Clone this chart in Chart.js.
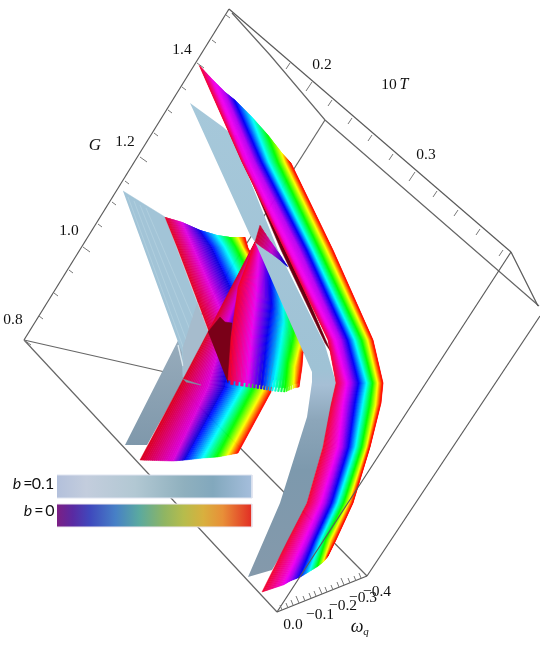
<!DOCTYPE html>
<html><head><meta charset="utf-8">
<style>html,body{margin:0;padding:0;background:#fff}canvas{display:block}</style>
<script src="https://cdn.jsdelivr.net/npm/chart.js@4/dist/chart.umd.min.js"></script>
</head><body><canvas id="c" width="540" height="654"></canvas>
<script>
// ---- text ----
const gTickLabels = ['0.8','1.0','1.2','1.4'];
const tTickLabels = ['0.2','0.3'];
const wTickLabels = ['\u22120.4','0.0','\u22120.1','\u22120.2','\u22120.3'];
const legendLabels = ['0.1','0'];
// ---- hue read across each rainbow sheet, edge to edge ----
const hueA = [350,305,285,240,180,120,60,0];
const hueAcross = [352,300,240,180,120,60,0];
const hueTip = [348,325,295,262,235];
// ---- rainbow sheets: each row is one section across the sheet, [x,y] ----
const sheetA = [
 [[199,65],[212,79],[225,92],[235,100],[252,117],[268,135],[282,153],[290,162]],
 [[242,162],[246,162],[255,162],[262,162],[269,162],[278,162],[285,162],[291,163]],
 [[285,250],[289,250],[300,250],[307,250],[313,250],[320,250],[327,250],[333,250]],
 [[328,340],[334,340],[341,340],[348,340],[355,340],[362,340],[368,340],[373,340]],
 [[336,383],[346,383],[351,383],[359,383],[367,383],[373,383],[378,383],[383,383]],
 [[331,405],[342,405],[347,405],[355,405],[363,405],[370,405],[376,405],[381,403]],
 [[323,447],[337,447],[342,447],[349,447],[356,447],[362,447],[367,447],[370,447]],
 [[307,503],[320,503],[325,503],[332,503],[338,503],[344,503],[349,503],[353,503]],
 [[288,540],[303,540],[309,540],[315,540],[321,540],[326,540],[331,540],[336,540]],
 [[262,592],[283,585],[290,581],[300,577],[310,571],[318,566],[324,561],[328,556]]
];
const sheetC = [
 [[255,242],[257,243],[258,244],[259,245],[260,246],[261,247],[262,248]],
 [[208,332],[225,330],[235,330],[250,330],[260,330],[270,330],[277,330]],
 [[179,387],[208,387],[225,387],[242,388],[253,389],[263,391],[271,392]],
 [[140,460],[173,461],[185,460],[203,458],[217,457],[228,455],[238,453]]
];
const sheetD = [
 [[165,217],[182,222],[200,230],[217,235],[230,237],[238,237],[245,237]],
 [[177,247],[193,247],[212,247],[225,247],[236,247],[243,247],[248,248]],
 [[202,313],[222,313],[243,313],[258,313],[270,313],[278,313],[285,313]],
 [[228,383],[250,380],[270,380],[283,380],[290,380],[295,380],[298,380]]
];
const sheetE = [
 [[255,242],[260,243],[270,267],[283,297],[295,323],[302,340],[307,350]],
 [[238,287],[257,290],[272,303],[284,323],[293,340],[299,350],[303,353]],
 [[231,337],[252,337],[267,343],[279,357],[288,363],[295,367],[302,367]],
 [[228,384],[248,387],[262,389],[273,391],[285,392],[294,388],[299,387]]
];
const tipTop = [[260,225],[267,236],[274,246],[281,256],[288,267]];
const tipBottom = [[255,242],[263,248],[272,254],[280,260],[288,267]];
// ---- plain sheets ----
const sheetB = [[190,103],[223,127],[232,135],[278,250],[325,345],[336,383],[323,447],[307,503],[282,553],[272,570],[248,577],[280,503],[307,417],[312,382],[312,372],[255,242],[250,235]];
const sheetF = [[123,191],[165,217],[208,332],[183,377],[182,353]];
const sheetF2 = [[197,303],[208,332],[184,378],[183,347]];
const sheetG = [[125,445],[147,445],[185,377],[183,347],[197,303],[200,290],[204,291],[196,305]];
const spur = [[197,300],[201,289],[204,291],[200,303]];
const sliver = [[183,379],[201,385],[186,382]];
const darkFold = [[232,135],[281,250],[325,343],[331,352],[287,250],[236,135]];
const darkPatch = [[208,332],[220,317],[225,322],[232,323],[228,383]];
const streaks = [[[128,197],[186,355]],[[134,201],[190,350]],[[140,205],[194,340]],[[146,208],[198,330]]];
const notch = [[178,345],[183,366]];
// ---- frame ----
const backEdges = [
 [[24,340],[277,612]],
 [[24,340],[165,372]],
 [[165,372],[367,576]],
 [[165,372],[325,120]],
 [[232,13],[270,55],[325,120],[539,306]]
];
const frontEdges = [
 [[24,340],[229,9]],
 [[229,9],[511,252]],
 [[511,252],[538,306]],
 [[511,252],[277,612]],
 [[277,612],[367,576]],
 [[367,576],[540,316]]
];
// ---- ticks: [x,y] on the axis ----
const gTicks = [[226,15],[212,40],[197,63],[182,87],[168,110],[154,133],[140,157],[125,181],[112,202],[98,224],[83,247],[69,270],[54,293],[39,316],[24,340]];
const gMajor = [2,6,10,14];
const tTicks = [[290,63],[312,82],[332,100],[352,118],[372,135],[393,154],[415,172],[437,191],[458,210],[480,229],[503,250]];
const tMajor = [1,6];
const wTicks = [[282,610],[288,608],[293,605],[299,603],[305,601],[311,598],[316,596],[322,594],[327,592],[333,590],[339,587],[344,585],[350,583],[356,581],[361,578]];
const wMajor = [3,7,11];
// ---- legend colour ramps ----
const rampB01 = [[0,'#b3c0db'],[0.15,'#c3cddd'],[0.4,'#b2c8d3'],[0.65,'#8fb0be'],[0.8,'#82a8bd'],[1,'#a5bedc']];
const rampB0 = [[0,'#7c1f84'],[0.08,'#5a2aa2'],[0.17,'#3f49bd'],[0.3,'#4780c6'],[0.42,'#5aa9a0'],[0.55,'#8fb563'],[0.65,'#b6bc4c'],[0.75,'#d8b03e'],[0.85,'#e88f38'],[1,'#e22c24']];
const barB01 = [[57,475],[252,475],[252,498],[57,498]];
const barB0 = [[57,504],[252,504],[252,527],[57,527]];

const pts = a => a.map(p => ({x:p[0],y:p[1]}));
const lerp = (p,q,t) => [p[0]+(q[0]-p[0])*t,p[1]+(q[1]-p[1])*t];
const list = [];
function poly(a,bg,extra){list.push(Object.assign({data:pts(a),showLine:true,fill:'shape',backgroundColor:bg,borderColor:typeof bg==='string'?bg:'rgba(0,0,0,0)',borderWidth:typeof bg==='string'?0.5:0,pointRadius:0,tension:0},extra||{}));}
function stroke(a,col,w){list.push({data:pts(a),showLine:true,fill:false,borderColor:col,borderWidth:w,pointRadius:0,tension:0});}
function rainbow(rows,hues,steps,teeth,warmLight){
  let n=0;
  for(let b=0;b<hues.length-1;b++){
    for(let s=0;s<steps;s++,n++){
      const t0=s/steps,t1=(s+1.15)/steps,h=hues[b]+(hues[b+1]-hues[b])*(s+0.5)/steps;
      const one=rows.map(r=>lerp(r[b],r[b+1],t0)), two=rows.map(r=>lerp(r[b],r[b+1],Math.min(t1,1)));
      if(teeth&&n%4<2){const k=one.length-1;one[k]=[one[k][0],one[k][1]-teeth];two[k]=[two[k][0],two[k][1]-teeth];}
      const l=h>=240?warmLight:50;
      poly(one.concat(two.reverse()),`hsl(${h},100%,${l}%)`);
    }
  }
}
function vGrad(stops){return c=>{const ch=c.chart,y=ch.scales.y;const a=stops[0][0],z=stops[stops.length-1][0];const p0=y&&y.getPixelForValue(a),p1=y&&y.getPixelForValue(z);if(!Number.isFinite(p0)||!Number.isFinite(p1))return stops[0][1];const g=ch.ctx.createLinearGradient(0,p0,0,p1);stops.forEach(s=>g.addColorStop((s[0]-a)/(z-a),s[1]));return g;};}
function hGrad(bar,ramp){return c=>{const ch=c.chart,x=ch.scales.x;const p0=x&&x.getPixelForValue(bar[0][0]),p1=x&&x.getPixelForValue(bar[1][0]);if(!Number.isFinite(p0)||!Number.isFinite(p1))return ramp[0][1];const g=ch.ctx.createLinearGradient(p0,0,p1,0);ramp.forEach(s=>g.addColorStop(s[0],s[1]));return g;};}

// paint order, back to front
backEdges.forEach(e=>stroke(e,'#666',1.2));
poly(sheetG,vGrad([[290,'#a3b7c6'],[380,'#8ea4b5'],[445,'#7f98ab']]));
poly(sheetF,'#a2c4d7');
streaks.forEach(e=>stroke(e,'#b3d0df',0.8));
stroke(notch,'#dbe8ef',1.4);
poly(sheetF2,'#a6bccd');
poly(spur,'#a9c8d8');
rainbow(sheetD,hueAcross,16,0,44);
rainbow(sheetC,hueAcross,16,0,43);
poly(darkPatch,'#7a0018');
rainbow(sheetE,hueAcross,16,4,47);
poly(sheetB,vGrad([[103,'#a6c8da'],[370,'#9fc2d5'],[385,'#a6bfd5'],[420,'#8ca6ba'],[470,'#7d99ad'],[577,'#8499ab']]));
rainbow([tipTop,tipBottom],hueTip,8,0,40);
poly(darkFold,'#6b0012');
rainbow(sheetA,hueA,16,0,47);
poly(sliver,'#7f93a3');
frontEdges.forEach(e=>stroke(e,'#5a5a5a',1.2));
const tick=(p,dx,dy)=>stroke([p,[p[0]+dx,p[1]+dy]],'#777',1);
gTicks.forEach((p,i)=>gMajor.includes(i)?tick(p,7,5):tick(p,4,3));
tTicks.forEach((p,i)=>tMajor.includes(i)?tick(p,-6,9):tick(p,-4,6));
wTicks.forEach((p,i)=>wMajor.includes(i)?tick(p,-3,-7):tick(p,-2,-5));
poly(barB01,hGrad(barB01,rampB01),{borderColor:'#dfe4f0',borderWidth:1});
poly(barB0,hGrad(barB0,rampB0),{borderColor:'#ece6ee',borderWidth:1});

const serif='"Liberation Serif"',sans='Lato';
const gAt=[[13,320],[69,231],[125,142],[182,50]], tAt=[[322,65],[426,155]], wAt=[[377,592],[293,625],[320,615],[343,606],[363,598]];
const textPlugin={id:'labels',afterDatasetsDraw(ch){
  const c=ch.ctx,sx=ch.scales.x,sy=ch.scales.y;
  const put=(s,x,y,font)=>{c.font=font;c.textAlign='center';c.textBaseline='middle';c.fillStyle='#111';c.fillText(s,sx.getPixelForValue(x),sy.getPixelForValue(y));};
  c.save();
  const tf=`15.5px ${serif}`;
  gTickLabels.forEach((s,i)=>put(s,gAt[i][0],gAt[i][1],tf));
  tTickLabels.forEach((s,i)=>put(s,tAt[i][0],tAt[i][1],tf));
  wTickLabels.forEach((s,i)=>put(s,wAt[i][0],wAt[i][1],tf));
  put('G',95,146,`italic 17px ${serif}`);
  put('10',389,85,tf);
  put('T',404,85,`italic 16px ${serif}`);
  put('\u03c9',357,627,`italic 18px ${serif}`);
  put('q',366,632,`italic 11px ${serif}`);
  put('b',17,484,`italic 16px ${sans}`);
  put('=',28,484,`16px ${sans}`);
  put(legendLabels[0],43,484,`16px ${sans}`);
  put('b',28,511,`italic 16px ${sans}`);
  put('=',39,511,`16px ${sans}`);
  put(legendLabels[1],50,511,`16px ${sans}`);
  c.restore();
}};
new Chart(document.getElementById('c'),{
  type:'scatter',
  data:{datasets:list.slice().reverse()},
  options:{responsive:false,animation:false,events:[],layout:{padding:0},
    plugins:{legend:{display:false},tooltip:{enabled:false},title:{display:false}},
    scales:{x:{type:'linear',min:0,max:540,display:false},y:{type:'linear',min:0,max:654,reverse:true,display:false}}},
  plugins:[textPlugin]
});
</script></body></html>
